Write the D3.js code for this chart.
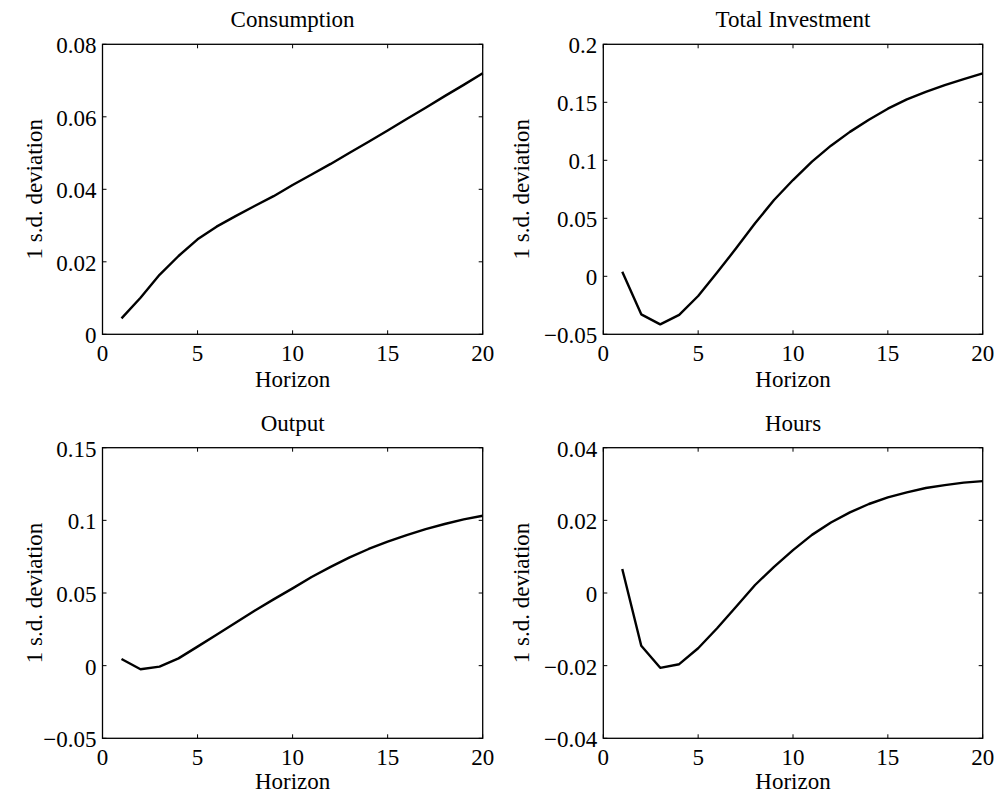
<!DOCTYPE html>
<html>
<head>
<meta charset="utf-8">
<script src="https://cdn.jsdelivr.net/npm/d3@7"></script>
<style>
  body { margin: 0; background: #fff; }
  svg { display: block; }
  text { font-family: "Liberation Serif", "Times New Roman", serif; fill: #000; }
</style>
</head>
<body>
<svg id="chart" width="1000" height="800"></svg>
<script>
// ---- Data ----
const horizon = [1,2,3,4,5,6,7,8,9,10,11,12,13,14,15,16,17,18,19,20];

const consumption = [0.0044,0.0101,0.0164,0.0216,0.0262,0.0297,0.0326,0.0354,0.0381,0.0412,
                     0.0441,0.0470,0.0501,0.0531,0.0562,0.0594,0.0625,0.0657,0.0688,0.0720];
const investment  = [0.0040,-0.0328,-0.0414,-0.0333,-0.0170,0.0032,0.0241,0.0457,0.0658,0.0830,
                     0.0989,0.1126,0.1245,0.1350,0.1445,0.1525,0.1590,0.1648,0.1700,0.1750];
const output      = [0.0046,-0.0025,-0.0007,0.0050,0.0131,0.0212,0.0296,0.0378,0.0456,0.0532,
                     0.0610,0.0680,0.0745,0.0803,0.0853,0.0899,0.0940,0.0975,0.1007,0.1032];
const hours       = [0.0066,-0.0145,-0.0206,-0.0196,-0.0152,-0.0097,-0.0038,0.0022,0.0072,0.0118,
                     0.0160,0.0194,0.0222,0.0245,0.0263,0.0277,0.0289,0.0297,0.0304,0.0308];

const titles = ["Consumption","Total Investment","Output","Hours"];
const series = [consumption, investment, output, hours];
const yDomains = [[0,0.08],[-0.05,0.2],[-0.05,0.15],[-0.04,0.04]];
const yTicks = [
  [0,0.02,0.04,0.06,0.08],
  [-0.05,0,0.05,0.1,0.15,0.2],
  [-0.05,0,0.05,0.1,0.15],
  [-0.04,-0.02,0,0.02,0.04]
];
const yTickLabels = [
  ["0","0.02","0.04","0.06","0.08"],
  ["\u22120.05","0","0.05","0.1","0.15","0.2"],
  ["\u22120.05","0","0.05","0.1","0.15"],
  ["\u22120.04","\u22120.02","0","0.02","0.04"]
];
const xDomain = [0,20];
const xTicks = [0,5,10,15,20];
const xTickLabels = ["0","5","10","15","20"];
const xLabel = "Horizon";
const yLabel = "1 s.d. deviation";

// ---- Layout ----
const boxes = [
  {l:102.5, r:482.7, t:44.3, b:334.3, ylx:60.5, xlo:52.4},
  {l:603.3, r:982.7, t:44.3, b:334.3, ylx:74,   xlo:52.4},
  {l:102.5, r:482.7, t:447.7, b:738.3, ylx:60.5, xlo:50.7},
  {l:603.3, r:982.7, t:447.7, b:738.3, ylx:74,   xlo:50.7}
];
const FS = 23;
const tickLen = 4;

const svg = d3.select("#chart");

boxes.forEach((bx, i) => {
  const x = d3.scaleLinear().domain(xDomain).range([bx.l, bx.r]);
  const y = d3.scaleLinear().domain(yDomains[i]).range([bx.b, bx.t]);
  const g = svg.append("g");

  // Inner ticks on all four sides
  const yt = yTicks[i];
  g.selectAll(".ytl").data(yt).enter().append("line")
    .attr("x1", bx.l).attr("x2", bx.l + tickLen)
    .attr("y1", d => y(d)).attr("y2", d => y(d))
    .attr("stroke", "#000").attr("stroke-width", 1);
  g.selectAll(".ytr").data(yt).enter().append("line")
    .attr("x1", bx.r).attr("x2", bx.r - tickLen)
    .attr("y1", d => y(d)).attr("y2", d => y(d))
    .attr("stroke", "#000").attr("stroke-width", 1);
  g.selectAll(".xtb").data(xTicks).enter().append("line")
    .attr("x1", d => x(d)).attr("x2", d => x(d))
    .attr("y1", bx.b).attr("y2", bx.b - tickLen)
    .attr("stroke", "#000").attr("stroke-width", 1);
  g.selectAll(".xtt").data(xTicks).enter().append("line")
    .attr("x1", d => x(d)).attr("x2", d => x(d))
    .attr("y1", bx.t).attr("y2", bx.t + tickLen)
    .attr("stroke", "#000").attr("stroke-width", 1);

  // Box
  g.append("rect")
    .attr("x", bx.l).attr("y", bx.t)
    .attr("width", bx.r - bx.l).attr("height", bx.b - bx.t)
    .attr("fill", "none").attr("stroke", "#000").attr("stroke-width", 1.3);

  // Tick labels
  g.selectAll(".ylab").data(yt).enter().append("text")
    .attr("x", bx.l - 6).attr("y", d => y(d) + 9)
    .attr("text-anchor", "end").attr("font-size", FS)
    .text((d, j) => yTickLabels[i][j]);
  g.selectAll(".xlab").data(xTicks).enter().append("text")
    .attr("x", d => x(d)).attr("y", bx.b + 27)
    .attr("text-anchor", "middle").attr("font-size", FS)
    .text((d, j) => xTickLabels[j]);

  // Title
  g.append("text")
    .attr("x", (bx.l + bx.r) / 2).attr("y", bx.t - 17)
    .attr("text-anchor", "middle").attr("font-size", FS)
    .text(titles[i]);

  // X label
  g.append("text")
    .attr("x", (bx.l + bx.r) / 2).attr("y", bx.b + bx.xlo)
    .attr("text-anchor", "middle").attr("font-size", FS)
    .text(xLabel);

  // Y label
  const cy = (bx.t + bx.b) / 2;
  const lx = bx.l - bx.ylx;
  g.append("text")
    .attr("transform", `translate(${lx},${cy}) rotate(-90)`)
    .attr("text-anchor", "middle").attr("font-size", FS)
    .text(yLabel);

  // Data line
  const line = d3.line().x((d, j) => x(horizon[j])).y(d => y(d));
  g.append("path")
    .datum(series[i])
    .attr("d", line)
    .attr("fill", "none").attr("stroke", "#000")
    .attr("stroke-width", 2.4).attr("stroke-linejoin", "round");
});
</script>
</body>
</html>
